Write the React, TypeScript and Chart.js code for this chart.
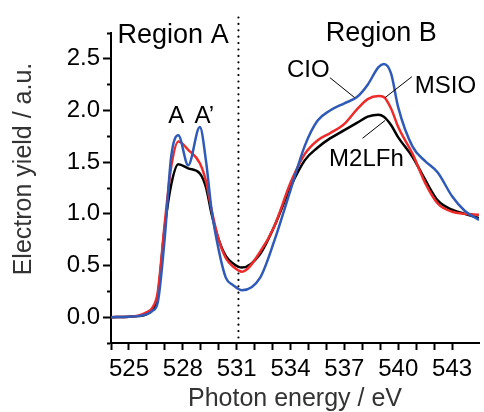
import { useEffect, useRef } from "react";
import { Chart, registerables } from "chart.js";

Chart.register(...registerables);

// O K-edge spectra, photon energy in eV
const energy = [
  524, 525, 525.5, 526, 526.3, 526.6, 527.0, 527.35, 527.75, 528.3, 528.95, 529.3,
  529.6, 530.0, 530.4, 530.8, 531.3, 532.3, 533.1, 534.0, 534.8, 535.5, 536.2, 537.0,
  537.7, 538.3, 538.9, 539.2, 539.6, 540.0, 540.8, 541.5, 542.2, 543.0, 543.7, 544.5,
];

const cioYield = [
  0.0, 0.005, 0.01, 0.03, 0.06, 0.14, 0.78, 1.55, 1.76, 1.47, 1.84, 1.5,
  1.04, 0.65, 0.38, 0.31, 0.26, 0.38, 0.74, 1.23, 1.66, 1.9, 2.0, 2.07,
  2.13, 2.25, 2.42, 2.45, 2.36, 2.03, 1.65, 1.51, 1.4, 1.17, 1.03, 0.94,
];

const msioYield = [
  0.0, 0.005, 0.015, 0.05, 0.09, 0.24, 0.92, 1.45, 1.7, 1.62, 1.49, 1.31,
  1.04, 0.75, 0.57, 0.49, 0.44, 0.63, 0.88, 1.3, 1.58, 1.71, 1.78, 1.87,
  2.01, 2.11, 2.14, 2.13, 2.02, 1.84, 1.58, 1.3, 1.1, 1.02, 1.0, 0.99,
];

const m2lfhYield = [
  0.0, 0.005, 0.01, 0.03, 0.07, 0.2, 0.88, 1.28, 1.48, 1.44, 1.39, 1.25,
  1.0, 0.75, 0.59, 0.52, 0.48, 0.61, 0.88, 1.26, 1.52, 1.64, 1.73, 1.81,
  1.88, 1.94, 1.96, 1.94, 1.86, 1.74, 1.55, 1.33, 1.13, 1.04, 1.0, 0.96,
];

const xMin = 524;
const xMax = 544.5;
const yMin = -0.25;
const yMax = 2.75;
const regionBoundary = 531.1;

const FONT = "'Liberation Sans', Arial, sans-serif";

// text annotations in data coordinates (baseline-centred)
const regionLabels = [
  { text: "Region A", x: 527.46, y: 2.654 },
  { text: "Region B", x: 539.05, y: 2.673 },
];
const peakLabels = [
  { text: "A", x: 527.63, y: 1.875 },
  { text: "A\u2019", x: 529.2, y: 1.875 },
];
const seriesLabels = [
  { text: "CIO", x: 534.99, y: 2.327 },
  { text: "MSIO", x: 542.63, y: 2.173 },
  { text: "M2LFh", x: 538.23, y: 1.462 },
];
const leaderLines = [
  { x1: 536.2, y1: 2.317, x2: 537.57, y2: 2.125 },
  { x1: 540.76, y1: 2.327, x2: 539.27, y2: 2.125 },
  { x1: 538.01, y1: 1.731, x2: 539.27, y2: 1.904 },
];

const toPoints = (values: number[]) => energy.map((e, i) => ({ x: e, y: values[i] }));

const isHalfStep = (v: number) => Math.abs(v * 2 - Math.round(v * 2)) < 1e-6;

const annotationPlugin = {
  id: "spectrumAnnotations",
  beforeDatasetsDraw(chart: any) {
    const { ctx, scales } = chart;
    const x = scales.x.getPixelForValue(regionBoundary);
    ctx.save();
    ctx.strokeStyle = "#000";
    ctx.lineWidth = 2.2;
    ctx.lineCap = "round";
    ctx.setLineDash([0, 6.4]);
    ctx.beginPath();
    ctx.moveTo(x, scales.y.getPixelForValue(2.9));
    ctx.lineTo(x, scales.y.getPixelForValue(-0.22));
    ctx.stroke();
    ctx.restore();
  },
  afterDraw(chart: any) {
    const { ctx, scales } = chart;
    const px = (v: number) => scales.x.getPixelForValue(v);
    const py = (v: number) => scales.y.getPixelForValue(v);
    ctx.save();
    ctx.fillStyle = "#000";
    ctx.textAlign = "center";
    ctx.textBaseline = "alphabetic";

    ctx.font = `27px ${FONT}`;
    regionLabels.forEach((l) => ctx.fillText(l.text, px(l.x), py(l.y)));

    ctx.font = `24px ${FONT}`;
    peakLabels.forEach((l) => ctx.fillText(l.text, px(l.x), py(l.y)));
    seriesLabels.forEach((l) => ctx.fillText(l.text, px(l.x), py(l.y)));

    ctx.strokeStyle = "#000";
    ctx.lineWidth = 1;
    leaderLines.forEach((l) => {
      ctx.beginPath();
      ctx.moveTo(px(l.x1), py(l.y1));
      ctx.lineTo(px(l.x2), py(l.y2));
      ctx.stroke();
    });

    // vertical axis title
    ctx.fillStyle = "#333";
    ctx.font = `25px ${FONT}`;
    ctx.textBaseline = "middle";
    ctx.translate(24, 169);
    ctx.rotate(-Math.PI / 2);
    ctx.fillText("Electron yield / a.u.", 0, 0);
    ctx.restore();
  },
};

export default function App() {
  const canvasRef = useRef<HTMLCanvasElement | null>(null);

  useEffect(() => {
    if (!canvasRef.current) return;
    const chart = new Chart(canvasRef.current, {
      type: "line",
      data: {
        datasets: [
          { label: "CIO", data: toPoints(cioYield), borderColor: "#2f5ab7" },
          { label: "MSIO", data: toPoints(msioYield), borderColor: "#ee2b2b" },
          { label: "M2LFh", data: toPoints(m2lfhYield), borderColor: "#000000" },
        ],
      },
      options: {
        responsive: false,
        animation: false,
        devicePixelRatio: 1,
        layout: { padding: { top: 33, right: 0, left: 0, bottom: 0 } },
        elements: {
          point: { radius: 0 },
          line: { borderWidth: 2.5, cubicInterpolationMode: "monotone", fill: false },
        },
        plugins: {
          legend: { display: false },
          tooltip: { enabled: false },
        },
        scales: {
          x: {
            type: "linear",
            min: xMin,
            max: xMax,
            afterFit: (s: any) => {
              s.height = 69;
            },
            border: { display: true, color: "#000", width: 2 },
            grid: {
              drawOnChartArea: false,
              drawTicks: true,
              tickLength: 7,
              tickWidth: 2,
              tickColor: (c: any) =>
                Number.isInteger(c.tick?.value) ? "#000" : "rgba(0,0,0,0)",
            },
            ticks: {
              stepSize: 1,
              autoSkip: false,
              maxRotation: 0,
              padding: 5,
              color: "#000",
              font: { family: FONT, size: 24 },
              callback: (v: any) => ((Number(v) - 525) % 3 === 0 ? String(v) : ""),
            },
            title: {
              display: true,
              text: "Photon energy / eV",
              color: "#333",
              font: { family: FONT, size: 25, lineHeight: 1 },
              padding: { top: 0, bottom: 0 },
            },
          },
          y: {
            type: "linear",
            min: yMin,
            max: yMax,
            afterFit: (s: any) => {
              s.width = 111;
            },
            border: { display: true, color: "#000", width: 2 },
            grid: {
              drawOnChartArea: false,
              drawTicks: true,
              tickLength: 8,
              tickWidth: 2,
              tickColor: "#000",
              tickBorderDash: (c: any) =>
                isHalfStep(c.tick?.value ?? 0) ? [] : [0, 4, 4, 100],
            },
            ticks: {
              stepSize: 0.25,
              autoSkip: false,
              padding: 3,
              color: "#000",
              font: { family: FONT, size: 24 },
              callback: (v: any) => (isHalfStep(Number(v)) ? Number(v).toFixed(1) : ""),
            },
          },
        },
      },
      plugins: [annotationPlugin],
    } as any);
    return () => chart.destroy();
  }, []);

  return (
    <div style={{ position: "fixed", left: 0, top: 0, width: 484, height: 412, background: "#fff" }}>
      <canvas ref={canvasRef} width={484} height={412} />
    </div>
  );
}
